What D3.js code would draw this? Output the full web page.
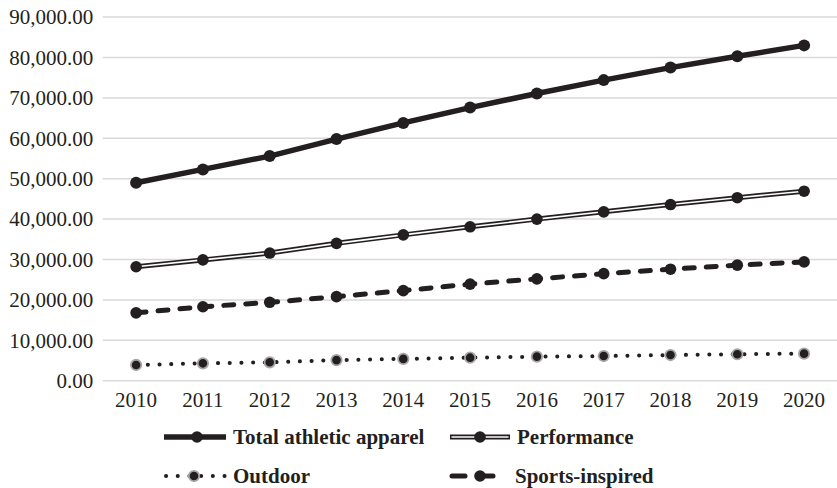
<!DOCTYPE html>
<html>
<head>
<meta charset="utf-8">
<script src="https://cdn.jsdelivr.net/npm/d3@7"></script>
<style>
  html, body { margin: 0; padding: 0; background: #ffffff; }
  svg { display: block; }
</style>
</head>
<body>
<svg id="chart" width="837" height="488"></svg>
<script>
const years = ["2010","2011","2012","2013","2014","2015","2016","2017","2018","2019","2020"];
const totalAthletic = [49000, 52300, 55600, 59800, 63800, 67600, 71100, 74400, 77500, 80300, 83000];
const performance   = [28200, 29900, 31600, 34000, 36100, 38100, 40000, 41800, 43600, 45300, 46900];
const outdoor       = [3900, 4300, 4550, 5100, 5400, 5700, 5950, 6100, 6350, 6550, 6700];
const sportsInspired = [16800, 18300, 19400, 20800, 22300, 23900, 25200, 26500, 27600, 28600, 29400];
const yTicks = [0, 10000, 20000, 30000, 40000, 50000, 60000, 70000, 80000, 90000];
const seriesNames = ["Total athletic apparel", "Performance", "Outdoor", "Sports-inspired"];

const INK = "#231f20";
const FONT = "'Liberation Serif', 'Times New Roman', 'DejaVu Serif', serif";
const svg = d3.select("#chart");

const x = d3.scaleBand().domain(years).range([102.7, 837.5]).paddingInner(0).paddingOuter(0);
const y = d3.scaleLinear().domain([0, 90000]).range([380.7, 17.1]);
const cx = d => x(d) + x.bandwidth() / 2;

// gridlines
svg.append("g").selectAll("line").data(yTicks).join("line")
  .attr("x1", x.range()[0]).attr("x2", x.range()[1])
  .attr("y1", d => y(d)).attr("y2", d => y(d))
  .attr("stroke", "#d9d9d9").attr("stroke-width", 1.5);

// y axis
const fmt = d3.format(",.2f");
const yAxis = svg.append("g").attr("transform", "translate(102.7,0)")
  .call(d3.axisLeft(y).tickValues(yTicks).tickFormat(fmt).tickSize(0).tickPadding(9.5));
yAxis.attr("font-family", FONT);
yAxis.select(".domain").remove();
yAxis.selectAll("text").style("font-family", FONT).style("font-size", "21px").attr("fill", INK);

// x axis
const xAxis = svg.append("g").attr("transform", "translate(0,380.7)")
  .call(d3.axisBottom(x).tickSize(0).tickPadding(11));
xAxis.attr("font-family", FONT);
xAxis.select(".domain").remove();
xAxis.selectAll("text").style("font-family", FONT).style("font-size", "21px").attr("fill", INK);

const line = d3.line().x((d, i) => cx(years[i])).y(d => y(d));

function markers(data, r, ring) {
  const g = svg.append("g");
  g.selectAll("circle").data(data).join("circle")
    .attr("cx", (d, i) => cx(years[i])).attr("cy", d => y(d))
    .attr("r", r).attr("fill", INK)
    .attr("stroke", ring ? "#a6a6a6" : "none").attr("stroke-width", ring ? 1.8 : 0);
}

// Outdoor (dotted)
svg.append("path").datum(outdoor).attr("d", line)
  .attr("fill", "none").attr("stroke", INK).attr("stroke-width", 4)
  .attr("stroke-linecap", "round").attr("stroke-dasharray", "0.1,11.6");
markers(outdoor, 5.2, true);

// Sports-inspired (dashed)
svg.append("path").datum(sportsInspired).attr("d", line)
  .attr("fill", "none").attr("stroke", INK).attr("stroke-width", 5)
  .attr("stroke-linecap", "round").attr("stroke-dasharray", "10,12");
markers(sportsInspired, 5.8, false);

// Performance (double line)
svg.append("path").datum(performance).attr("d", line)
  .attr("fill", "none").attr("stroke", INK).attr("stroke-width", 5);
svg.append("path").datum(performance).attr("d", line)
  .attr("fill", "none").attr("stroke", "#ffffff").attr("stroke-width", 1.6);
markers(performance, 5.8, false);

// Total
svg.append("path").datum(totalAthletic).attr("d", line)
  .attr("fill", "none").attr("stroke", INK).attr("stroke-width", 5.5);
markers(totalAthletic, 6, false);

// Legend
const legendItems = [
  { name: seriesNames[0], x0: 164, x1: 226, mx: 197, y: 437, type: "solid" },
  { name: seriesNames[1], x0: 450, x1: 510, mx: 480, y: 437, type: "double" },
  { name: seriesNames[2], x0: 166, x1: 226, mx: 194, y: 476, type: "dot" },
  { name: seriesNames[3], x0: 452, x1: 508, mx: 480, y: 476, type: "dash" }
];
const lg = svg.append("g");
legendItems.forEach(it => {
  const l = lg.append("line").attr("x1", it.x0).attr("x2", it.x1).attr("y1", it.y).attr("y2", it.y)
    .attr("stroke", INK);
  if (it.type === "solid") l.attr("stroke-width", 5.5);
  if (it.type === "double") {
    l.attr("stroke-width", 5);
    lg.append("line").attr("x1", it.x0 + 1.5).attr("x2", it.x1 - 1.5).attr("y1", it.y).attr("y2", it.y)
      .attr("stroke", "#fff").attr("stroke-width", 1.6);
  }
  if (it.type === "dot") l.attr("stroke-width", 4).attr("stroke-linecap", "round").attr("stroke-dasharray", "0.1,11.6");
  if (it.type === "dash") l.attr("stroke-width", 5).attr("stroke-linecap", "round").attr("stroke-dasharray", "13,15");
  lg.append("circle").attr("cx", it.mx).attr("cy", it.y).attr("r", it.type === "dot" ? 5.2 : 5.8)
    .attr("fill", INK)
    .attr("stroke", it.type === "dot" ? "#a6a6a6" : "none").attr("stroke-width", it.type === "dot" ? 1.8 : 0);
  lg.append("text").attr("x", it.x1 + 7).attr("y", it.y).attr("dy", "0.35em")
    .style("font-family", FONT).attr("fill", INK)
    .style("font-size", "21px").style("font-weight", "bold").text(it.name);
});
</script>
</body>
</html>
